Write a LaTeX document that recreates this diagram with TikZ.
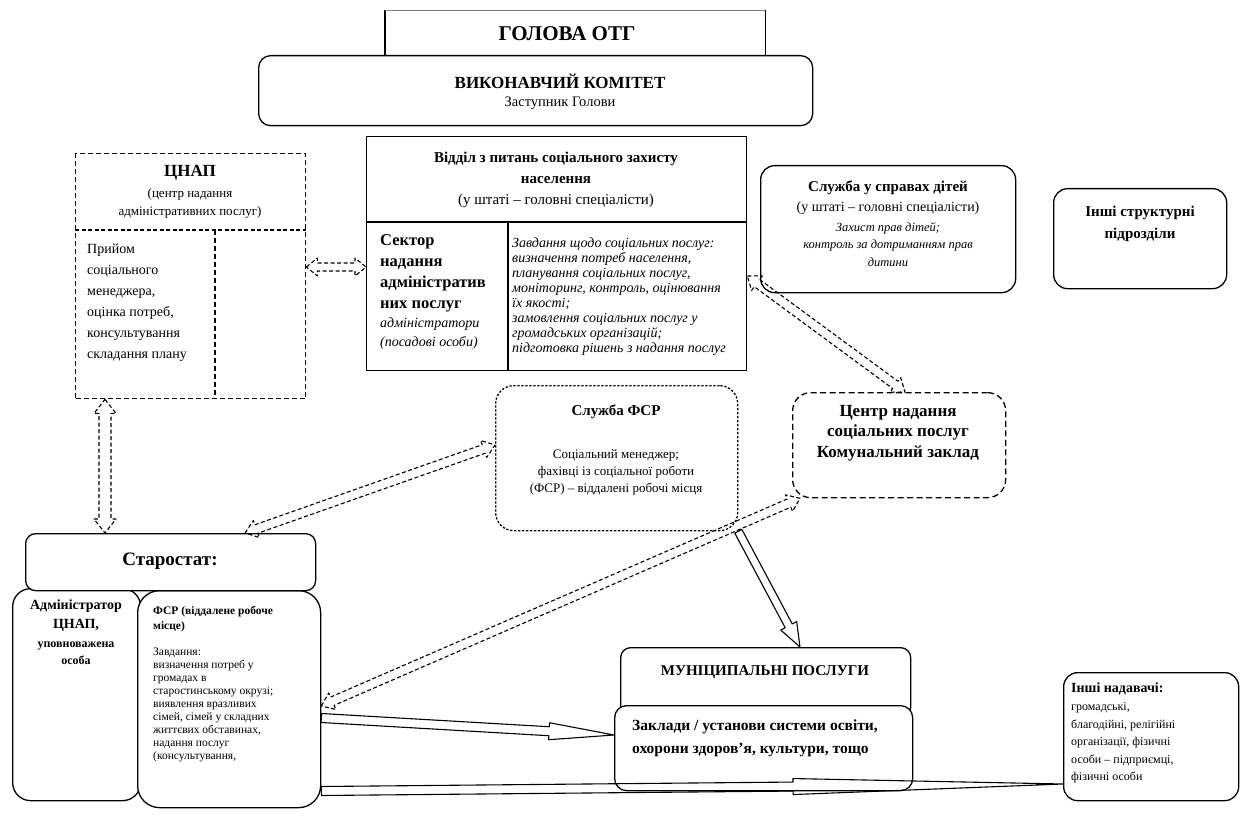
\documentclass[tikz,border=0pt]{standalone}
\usepackage{fontspec}
\setmainfont{Liberation Serif}
\usetikzlibrary{calc}
\newcommand{\HollowTwo}[6]{%
  \coordinate (hCa) at ($(#2)!#6!(#3)$);
  \coordinate (hCb) at ($(#3)!#6!(#2)$);
  \draw[#1] (#2) -- ($(hCa)!#5!90:(#3)$) -- ($(hCa)!#4!90:(#3)$)
    -- ($(hCb)!#4!-90:(#2)$) -- ($(hCb)!#5!-90:(#2)$) -- (#3)
    -- ($(hCb)!#5!90:(#2)$) -- ($(hCb)!#4!90:(#2)$)
    -- ($(hCa)!#4!-90:(#3)$) -- ($(hCa)!#5!-90:(#3)$) -- cycle;}
\newcommand{\HollowOne}[6]{%
  \coordinate (hC) at ($(#3)!#6!(#2)$);
  \draw[#1] ($(#2)!#4!90:(#3)$) -- ($(hC)!#4!-90:(#2)$) -- ($(hC)!#5!-90:(#2)$)
    -- (#3) -- ($(hC)!#5!90:(#2)$) -- ($(hC)!#4!90:(#2)$)
    -- ($(#2)!#4!-90:(#3)$) -- cycle;}
\begin{document}
\begin{tikzpicture}[x=1pt,y=-1pt,line join=round,
  sbox/.style={draw,line width=1.3pt,inner sep=0pt,anchor=north west,fill=white},
  cbox/.style={draw,line width=1.4pt,dash pattern=on 5pt off 3pt,inner sep=0pt,anchor=north west},
  fbox/.style={draw,line width=1.3pt,dash pattern=on 2.2pt off 1.8pt,inner sep=0pt,anchor=north west,rounded corners=18pt},
  zbox/.style={draw,line width=1.3pt,dash pattern=on 6pt off 3.5pt,inner sep=0pt,anchor=north west,rounded corners=18pt},
  tx/.style={inner sep=0pt},
  darr/.style={line width=1.1pt,dash pattern=on 4pt off 2.5pt},
  sarr/.style={line width=1.1pt}]
\useasboundingbox (0,0) rectangle (1242,829);
\fill[white] (0,0) rectangle (1242,829);

% Голова
\node[inner sep=0pt,minimum width=380pt,minimum height=46pt,anchor=north west] (golova) at (385,10) {};
\draw[line width=1.2pt] (golova.south west) -- (golova.north west);
\draw[line width=0.6pt,gray] (golova.north west) -- (golova.north east);
\draw[line width=1.2pt] (golova.north east) -- (golova.south east);
\node[tx,font=\fontsize{21}{25}\selectfont\bfseries] (golovaT) at (567,34) {ГОЛОВА ОТГ};

% Виконавчий комітет
\node[sbox,rounded corners=12pt,minimum width=554pt,minimum height=70pt] (vyk) at (258,55) {};
\node[tx,font=\fontsize{17}{20}\selectfont\bfseries] (vykT1) at (560,81) {ВИКОНАВЧИЙ КОМІТЕТ};
\node[tx,font=\fontsize{14.5}{17}\selectfont] (vykT2) at (560,103) {Заступник Голови};

% Відділ
\node[sbox,minimum width=380pt,minimum height=234pt] (viddil) at (366,136) {};
\coordinate (vsep) at (366,222);
\draw[line width=1.2pt] (vsep) -- (vsep -| viddil.east);
\coordinate (vdiv) at (508,222);
\draw[line width=1.2pt] (vdiv) -- (vdiv |- viddil.south);
\node[tx,align=center,font=\fontsize{15}{21}\selectfont] (viddilT) at (556,180)
  {\textbf{Відділ з питань соціального захисту}\\ \textbf{населення}\\ (у штаті – головні спеціалісти)};
\node[tx,align=left,anchor=west,font=\fontsize{16.5}{21}\selectfont\bfseries] (sectorT) at (380,273)
  {Сектор\\ надання\\ адміністратив\\ них послуг};
\node[tx,align=left,anchor=west,font=\fontsize{14}{19}\selectfont\itshape] (sectorI) at (380,334)
  {адміністратори\\ (посадові особи)};
\node[tx,align=left,anchor=west,font=\fontsize{14}{15}\selectfont\itshape] (tasksT) at (512,296.5)
  {Завдання щодо соціальних послуг:\\ визначення потреб населення,\\ планування соціальних послуг,\\
   моніторинг, контроль, оцінювання\\ їх якості;\\ замовлення соціальних послуг у\\
   громадських організацій;\\ підготовка рішень з надання послуг};

% ЦНАП
\node[cbox,minimum width=230pt,minimum height=245pt] (cnap) at (75,153) {};
\coordinate (csep) at (75,230);
\draw[line width=2.6pt,dash pattern=on 4pt off 2.5pt] (csep) -- (csep -| cnap.east);
\coordinate (cdiv) at (215,230);
\draw[line width=1.4pt,dash pattern=on 5pt off 3pt] (cdiv) -- (cdiv |- cnap.south);
\node[tx,font=\fontsize{17}{20}\selectfont\bfseries] (cnapT) at (190,173) {ЦНАП};
\node[tx,align=center,font=\fontsize{13}{18}\selectfont] (cnapT2) at (190,203)
  {(центр надання\\ адміністративних послуг)};
\node[tx,align=left,anchor=west,font=\fontsize{14}{21}\selectfont] (cnapL) at (87,302.5)
  {Прийом\\ соціального\\ менеджера,\\ оцінка потреб,\\ консультування\\ складання плану};

% Служба у справах дітей
\node[sbox,rounded corners=14pt,minimum width=255pt,minimum height=127pt] (dity) at (760,165) {};
\node[tx,font=\fontsize{15}{18}\selectfont\bfseries] (dityT1) at (888,188) {Служба у справах дітей};
\node[tx,font=\fontsize{14}{17}\selectfont] (dityT2) at (888,208) {(у штаті – головні спеціалісти)};
\node[tx,align=center,font=\fontsize{12.5}{17.5}\selectfont\itshape] (dityT3) at (888,244.5)
  {Захист прав дітей;\\ контроль за дотриманням прав\\ дитини};

% Інші структурні підрозділи
\node[sbox,rounded corners=14pt,minimum width=173pt,minimum height=100pt] (inshi) at (1053,188) {};
\node[tx,align=center,font=\fontsize{15}{22}\selectfont\bfseries] (inshiT) at (1140,224)
  {Інші структурні\\ підрозділи};

% Служба ФСР
\node[fbox,minimum width=242pt,minimum height=145pt] (fsr) at (495,385) {};
\node[tx,font=\fontsize{15}{18}\selectfont\bfseries] (fsrT1) at (616,412) {Служба ФСР};
\node[tx,align=center,font=\fontsize{13}{17}\selectfont] (fsrT2) at (616,472)
  {Соціальний менеджер;\\ фахівці із соціальної роботи\\ (ФСР) – віддалені робочі місця};

% Центр надання соціальних послуг
\node[zbox,minimum width=213pt,minimum height=105pt] (centr) at (792,392) {};
\node[tx,align=center,font=\fontsize{17}{20.5}\selectfont\bfseries] (centrT) at (898,433)
  {Центр надання\\ соціальних послуг\\ Комунальний заклад};

% Старостат
\node[sbox,rounded corners=18pt,minimum width=128pt,minimum height=212pt] (admin) at (12,588) {};
\node[sbox,rounded corners=22pt,minimum width=183pt,minimum height=217pt] (fsrsub) at (137,590) {};
\node[sbox,rounded corners=10pt,minimum width=290pt,minimum height=57pt] (starostat) at (25,533) {};
\node[tx,font=\fontsize{19}{22}\selectfont\bfseries] (starT) at (170,561) {Старостат:};
\node[tx,align=center,font=\fontsize{14}{19}\selectfont\bfseries] (adminT1) at (76,616)
  {Адміністратор\\ ЦНАП,};
\node[tx,align=center,font=\fontsize{12}{17}\selectfont\bfseries] (adminT2) at (76,653)
  {уповноважена\\ особа};
\node[tx,align=left,anchor=west,font=\fontsize{11.5}{15}\selectfont\bfseries] (fsrsubT1) at (153,619.5)
  {ФСР (віддалене робоче\\ місце)};
\node[tx,align=left,anchor=west,font=\fontsize{11.5}{13}\selectfont] (fsrsubT2) at (153,705)
  {Завдання:\\ визначення потреб у\\ громадах в\\ старостинському окрузі;\\ виявлення вразливих\\
   сімей, сімей у складних\\ життєвих обставинах,\\ надання послуг\\ (консультування,};

% Муніципальні послуги
\node[sbox,rounded corners=10pt,minimum width=290pt,minimum height=70pt] (muni) at (620,647) {};
\node[tx,font=\fontsize{15}{18}\selectfont\bfseries] (muniT) at (765,672) {МУНІЦИПАЛЬНІ ПОСЛУГИ};
\node[sbox,rounded corners=12pt,minimum width=298pt,minimum height=85pt] (zaklady) at (614,705) {};
\node[tx,align=left,anchor=west,font=\fontsize{15.5}{22.5}\selectfont\bfseries] (zakladyT) at (632,738.5)
  {Заклади / установи системи освіти,\\ охорони здоров’я, культури, тощо};

% Інші надавачі
\node[sbox,rounded corners=14pt,minimum width=175pt,minimum height=128pt] (inshinad) at (1063,672) {};
\node[tx,anchor=west,font=\fontsize{14}{16}\selectfont\bfseries] (inshinadT1) at (1071,689) {Інші надавачі:};
\node[tx,align=left,anchor=west,font=\fontsize{12}{17.5}\selectfont] (inshinadT2) at (1071,743)
  {громадські,\\ благодійні, релігійні\\ організації, фізичні\\ особи – підприємці,\\ фізичні особи};

% Connectors
\coordinate (a1s) at (cnap.east |- 0,267);
\coordinate (a1e) at (viddil.west |- 0,267);
\HollowTwo{darr}{a1s}{a1e}{4pt}{9pt}{11pt}
\coordinate (a2s) at (cnap.south -| 105,0);
\coordinate (a2e) at (starostat.north -| 105,0);
\HollowTwo{darr}{a2s}{a2e}{6pt}{11pt}{14pt}
\coordinate (a3s) at (viddil.east |- 0,276);
\coordinate (a3e) at (centr.north -| 905,0);
\HollowTwo{darr}{a3s}{a3e}{4.5pt}{9pt}{12pt}
\coordinate (a4s) at (starostat.north -| 245,0);
\coordinate (a4e) at (fsr.west |- 0,445);
\HollowTwo{darr}{a4s}{a4e}{4.5pt}{9pt}{12pt}
\coordinate (a5s) at (fsrsub.east |- 0,706);
\coordinate (a5e) at (centr.south -| 800,0);
\HollowTwo{darr}{a5s}{a5e}{4.5pt}{9pt}{12pt}
\coordinate (a6s) at (fsr.south east);
\coordinate (a6e) at (muni.north -| 800,0);
\HollowOne{sarr}{a6s}{a6e}{4pt}{9pt}{24pt}
\coordinate (a7s) at (fsrsub.east |- 0,718);
\coordinate (a7e) at (zaklady.west |- 0,735);
\HollowOne{sarr}{a7s}{a7e}{4.5pt}{8.5pt}{65pt}
\coordinate (a8s) at (fsrsub.east |- 0,791);
\coordinate (a8e) at (inshinad.west |- 0,784);
\HollowOne{sarr}{a8s}{a8e}{4.5pt}{8pt}{270pt}
\end{tikzpicture}
\end{document}
